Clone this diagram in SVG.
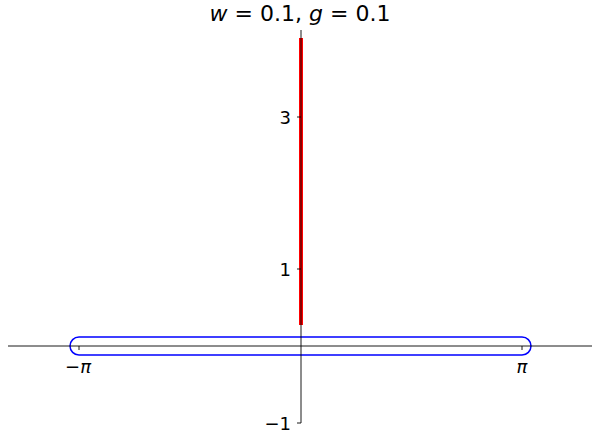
<svg xmlns="http://www.w3.org/2000/svg" width="592" height="441" viewBox="0 0 592 441">
<style>
.ax{stroke:#000;stroke-width:0.9;fill:none}
.tk{stroke:#000;stroke-width:0.9}
.lbl{font-family:"DejaVu Sans",sans-serif;font-size:18px;fill:#000}
</style>
<rect width="592" height="441" fill="#fff"/>
<g id="title">
<text x="300" y="21" text-anchor="middle" style="font-family:'DejaVu Sans',sans-serif;font-size:22px"><tspan font-style="italic">w</tspan> = 0.1, <tspan font-style="italic">g</tspan> = 0.1</text>
</g>
<g id="contour">
<rect x="70" y="337" width="461" height="18" rx="9" ry="9" fill="none" stroke="#0000ff" stroke-width="1.5"/>
</g>
<g id="spectrum">
<line x1="301" y1="38" x2="301" y2="325" stroke="#ff0000" stroke-width="4"/>
</g>
<g id="axes">
<line class="ax" x1="8" y1="346" x2="592" y2="346"/>
<line class="ax" x1="301" y1="30" x2="301" y2="423"/>
<line class="tk" x1="79" y1="346" x2="79" y2="350"/>
<line class="tk" x1="522" y1="346" x2="522" y2="350"/>
<line class="tk" x1="297" y1="117" x2="301" y2="117"/>
<line class="tk" x1="297" y1="269" x2="301" y2="269"/>
<line class="tk" x1="297" y1="423" x2="301" y2="423"/>
</g>
<g id="labels">
<text class="lbl" x="78" y="373" text-anchor="middle">−<tspan font-style="italic">π</tspan></text>
<text class="lbl" x="522" y="373" text-anchor="middle" font-style="italic">π</text>
<text class="lbl" x="291" y="124" text-anchor="end">3</text>
<text class="lbl" x="291" y="276" text-anchor="end">1</text>
<text class="lbl" x="291" y="430" text-anchor="end">−1</text>
</g>
</svg>
